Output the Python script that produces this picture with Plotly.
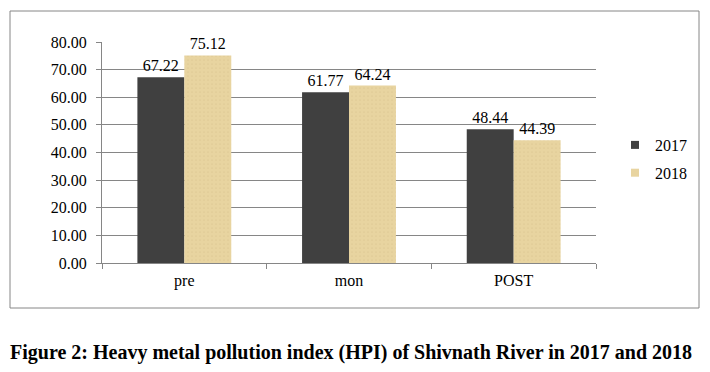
import plotly.graph_objects as go

categories = ["pre", "mon", "POST"]
series_names = ["2017", "2018"]
values_2017 = [67.22, 61.77, 48.44]
values_2018 = [75.12, 64.24, 44.39]
y_ticks = [0, 10, 20, 30, 40, 50, 60, 70, 80]
caption = "Figure 2: Heavy metal pollution index (HPI) of Shivnath River in 2017 and 2018"

FONT = "Times New Roman, Liberation Serif, serif"
GRID = "#868686"
DARK = "#404040"
TAN = "#E8D4A0"
FS = 16

fig = go.Figure()
fig.add_trace(go.Bar(
    x=categories, y=values_2017, name=series_names[0],
    marker=dict(color=DARK, line=dict(width=0)),
    text=[f"{v:.2f}" for v in values_2017], textposition="outside",
    textfont=dict(family=FONT, size=FS, color="#000000"),
    cliponaxis=False, showlegend=False,
))
fig.add_trace(go.Bar(
    x=categories, y=values_2018, name=series_names[1],
    marker=dict(color=TAN, line=dict(width=0),
                pattern=dict(shape=".", fgcolor="#D8C08A", size=4, solidity=0.15)),
    text=[f"{v:.2f}" for v in values_2018], textposition="outside",
    textfont=dict(family=FONT, size=FS, color="#000000"),
    cliponaxis=False, showlegend=False,
))
# legend entries with small square markers
for name, col in zip(series_names, [DARK, TAN]):
    fig.add_trace(go.Scatter(
        x=[None], y=[None], mode="markers", name=name, legendgroup=name,
        marker=dict(symbol="square", size=8, color=col),
    ))

W, H = 710, 372
L, R, T, B = 102, 114, 42, 109
pw, ph = W - L - R, H - T - B

def px(xpix):
    return (xpix - L) / pw

def py(ypix):
    return (H - B - ypix) / ph

fig.update_layout(
    width=W, height=H,
    margin=dict(l=L, r=R, t=T, b=B, pad=0),
    paper_bgcolor="white", plot_bgcolor="white",
    barmode="group", bargap=0.43, bargroupgap=0,
    font=dict(family=FONT, size=FS, color="#000000"),
    showlegend=True,
    legend=dict(x=px(615), y=py(159), xanchor="left", yanchor="middle",
                font=dict(family=FONT, size=FS), itemwidth=30,
                tracegroupgap=4, bgcolor="rgba(0,0,0,0)"),
    xaxis=dict(
        type="category", showgrid=False, showline=True, linecolor=GRID, linewidth=1,
        ticks="outside", tickson="boundaries", ticklen=5, tickcolor=GRID,
        tickfont=dict(family=FONT, size=FS), ticklabelstandoff=3,
    ),
    yaxis=dict(
        range=[0, 80], tickvals=y_ticks, ticktext=[f"{v:.2f}" for v in y_ticks],
        showgrid=True, gridcolor=GRID, gridwidth=1,
        showline=True, linecolor=GRID, linewidth=1,
        ticks="outside", ticklen=5, tickcolor=GRID,
        tickfont=dict(family=FONT, size=FS), ticklabelstandoff=6,
        zeroline=False,
    ),
    shapes=[dict(type="rect", xref="paper", yref="paper",
                 x0=px(10), x1=px(699), y0=py(308), y1=py(11),
                 line=dict(color=GRID, width=1), fillcolor="rgba(0,0,0,0)", layer="below")],
    annotations=[dict(text="<b>" + caption + "</b>", xref="paper", yref="paper",
                      x=px(351), y=py(352), xanchor="center", yanchor="middle",
                      showarrow=False, font=dict(family=FONT, size=20, color="#000000"))],
)

fig.write_html("out.html", config={"displayModeBar": False})

# remove default page margin so the figure sits at the window origin
with open("out.html", "r", encoding="utf-8") as f:
    html = f.read()
html = html.replace("<head>", "<head><style>html,body{margin:0;padding:0;overflow:hidden;}</style>", 1)
with open("out.html", "w", encoding="utf-8") as f:
    f.write(html)
